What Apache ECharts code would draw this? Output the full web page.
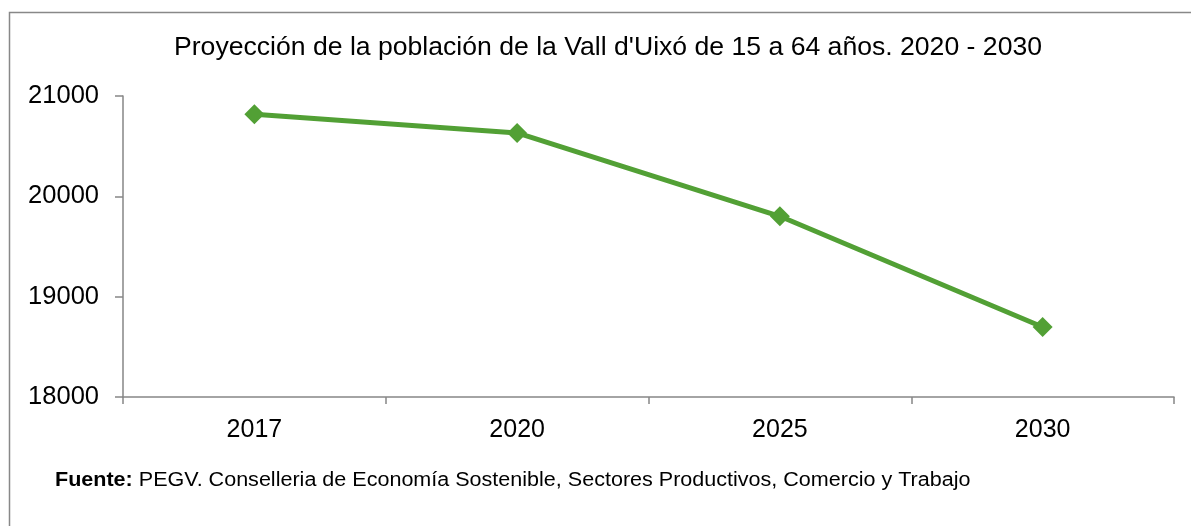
<!DOCTYPE html>
<html>
<head>
<meta charset="utf-8">
<script src="https://cdn.jsdelivr.net/npm/echarts@6/dist/echarts.min.js"></script>
<style>
html,body{margin:0;padding:0;background:#fff;}
#c{width:1191px;height:526px;}
</style>
</head>
<body>
<div id="c"></div>
<script>
const categories = ['2017', '2020', '2025', '2030'];
const poblacion = [20818, 20632, 19801, 18698];
const yTicks = { min: 18000, max: 21000, interval: 1000 };
const titleText = "Proyección de la población de la Vall d'Uixó de 15 a 64 años. 2020 - 2030";
const sourceLabel = 'Fuente:';
const sourceText = ' PEGV. Conselleria de Economía Sostenible, Sectores Productivos, Comercio y Trabajo';

const FONT = '"Liberation Sans", Arial, sans-serif';
const chart = echarts.init(document.getElementById('c'), null, { renderer: 'canvas' });
chart.setOption({
  backgroundColor: '#ffffff',
  animation: false,
  grid: { left: 123, right: 17, top: 96, bottom: 129, containLabel: false },
  xAxis: {
    type: 'category',
    data: categories,
    boundaryGap: true,
    axisLine: { show: true, lineStyle: { color: '#868686', width: 1.5 } },
    axisTick: { show: true, length: 7, lineStyle: { color: '#868686', width: 1.5 } },
    axisLabel: { color: '#000', fontSize: 25, fontFamily: FONT, margin: 21 },
    splitLine: { show: false }
  },
  yAxis: {
    type: 'value',
    min: yTicks.min, max: yTicks.max, interval: yTicks.interval,
    axisLine: { show: true, lineStyle: { color: '#868686', width: 1.5 } },
    axisTick: { show: true, length: 8, lineStyle: { color: '#868686', width: 1.5 } },
    axisLabel: { color: '#000', fontSize: 25.5, fontFamily: FONT, margin: 24,
      formatter: function (v) { return String(v); } },
    splitLine: { show: false }
  },
  series: [{
    type: 'line',
    data: poblacion,
    symbol: 'diamond',
    symbolSize: 20,
    lineStyle: { color: '#52A035', width: 5 },
    itemStyle: { color: '#52A035' },
    emphasis: { disabled: true }
  }],
  graphic: [
    { type: 'rect', silent: true, shape: { x: 9.5, y: 12.5, width: 1300, height: 700 },
      style: { fill: 'none', stroke: '#888888', lineWidth: 1.5 } },
    { type: 'text', x: 608, y: 48, silent: true,
      style: { text: titleText, fill: '#000', font: '26.6px ' + FONT, textAlign: 'center', textVerticalAlign: 'middle' } },
    { type: 'text', x: 55, y: 480, scaleX: 1.077, silent: true,
      style: {
        text: '{b|' + sourceLabel + '}{n|' + sourceText + '}',
        textVerticalAlign: 'middle',
        rich: {
          b: { fontSize: 20, fontWeight: 'bold', fontFamily: FONT, fill: '#000' },
          n: { fontSize: 20, fontFamily: FONT, fill: '#000' }
        }
      } }
  ]
});
</script>
</body>
</html>
